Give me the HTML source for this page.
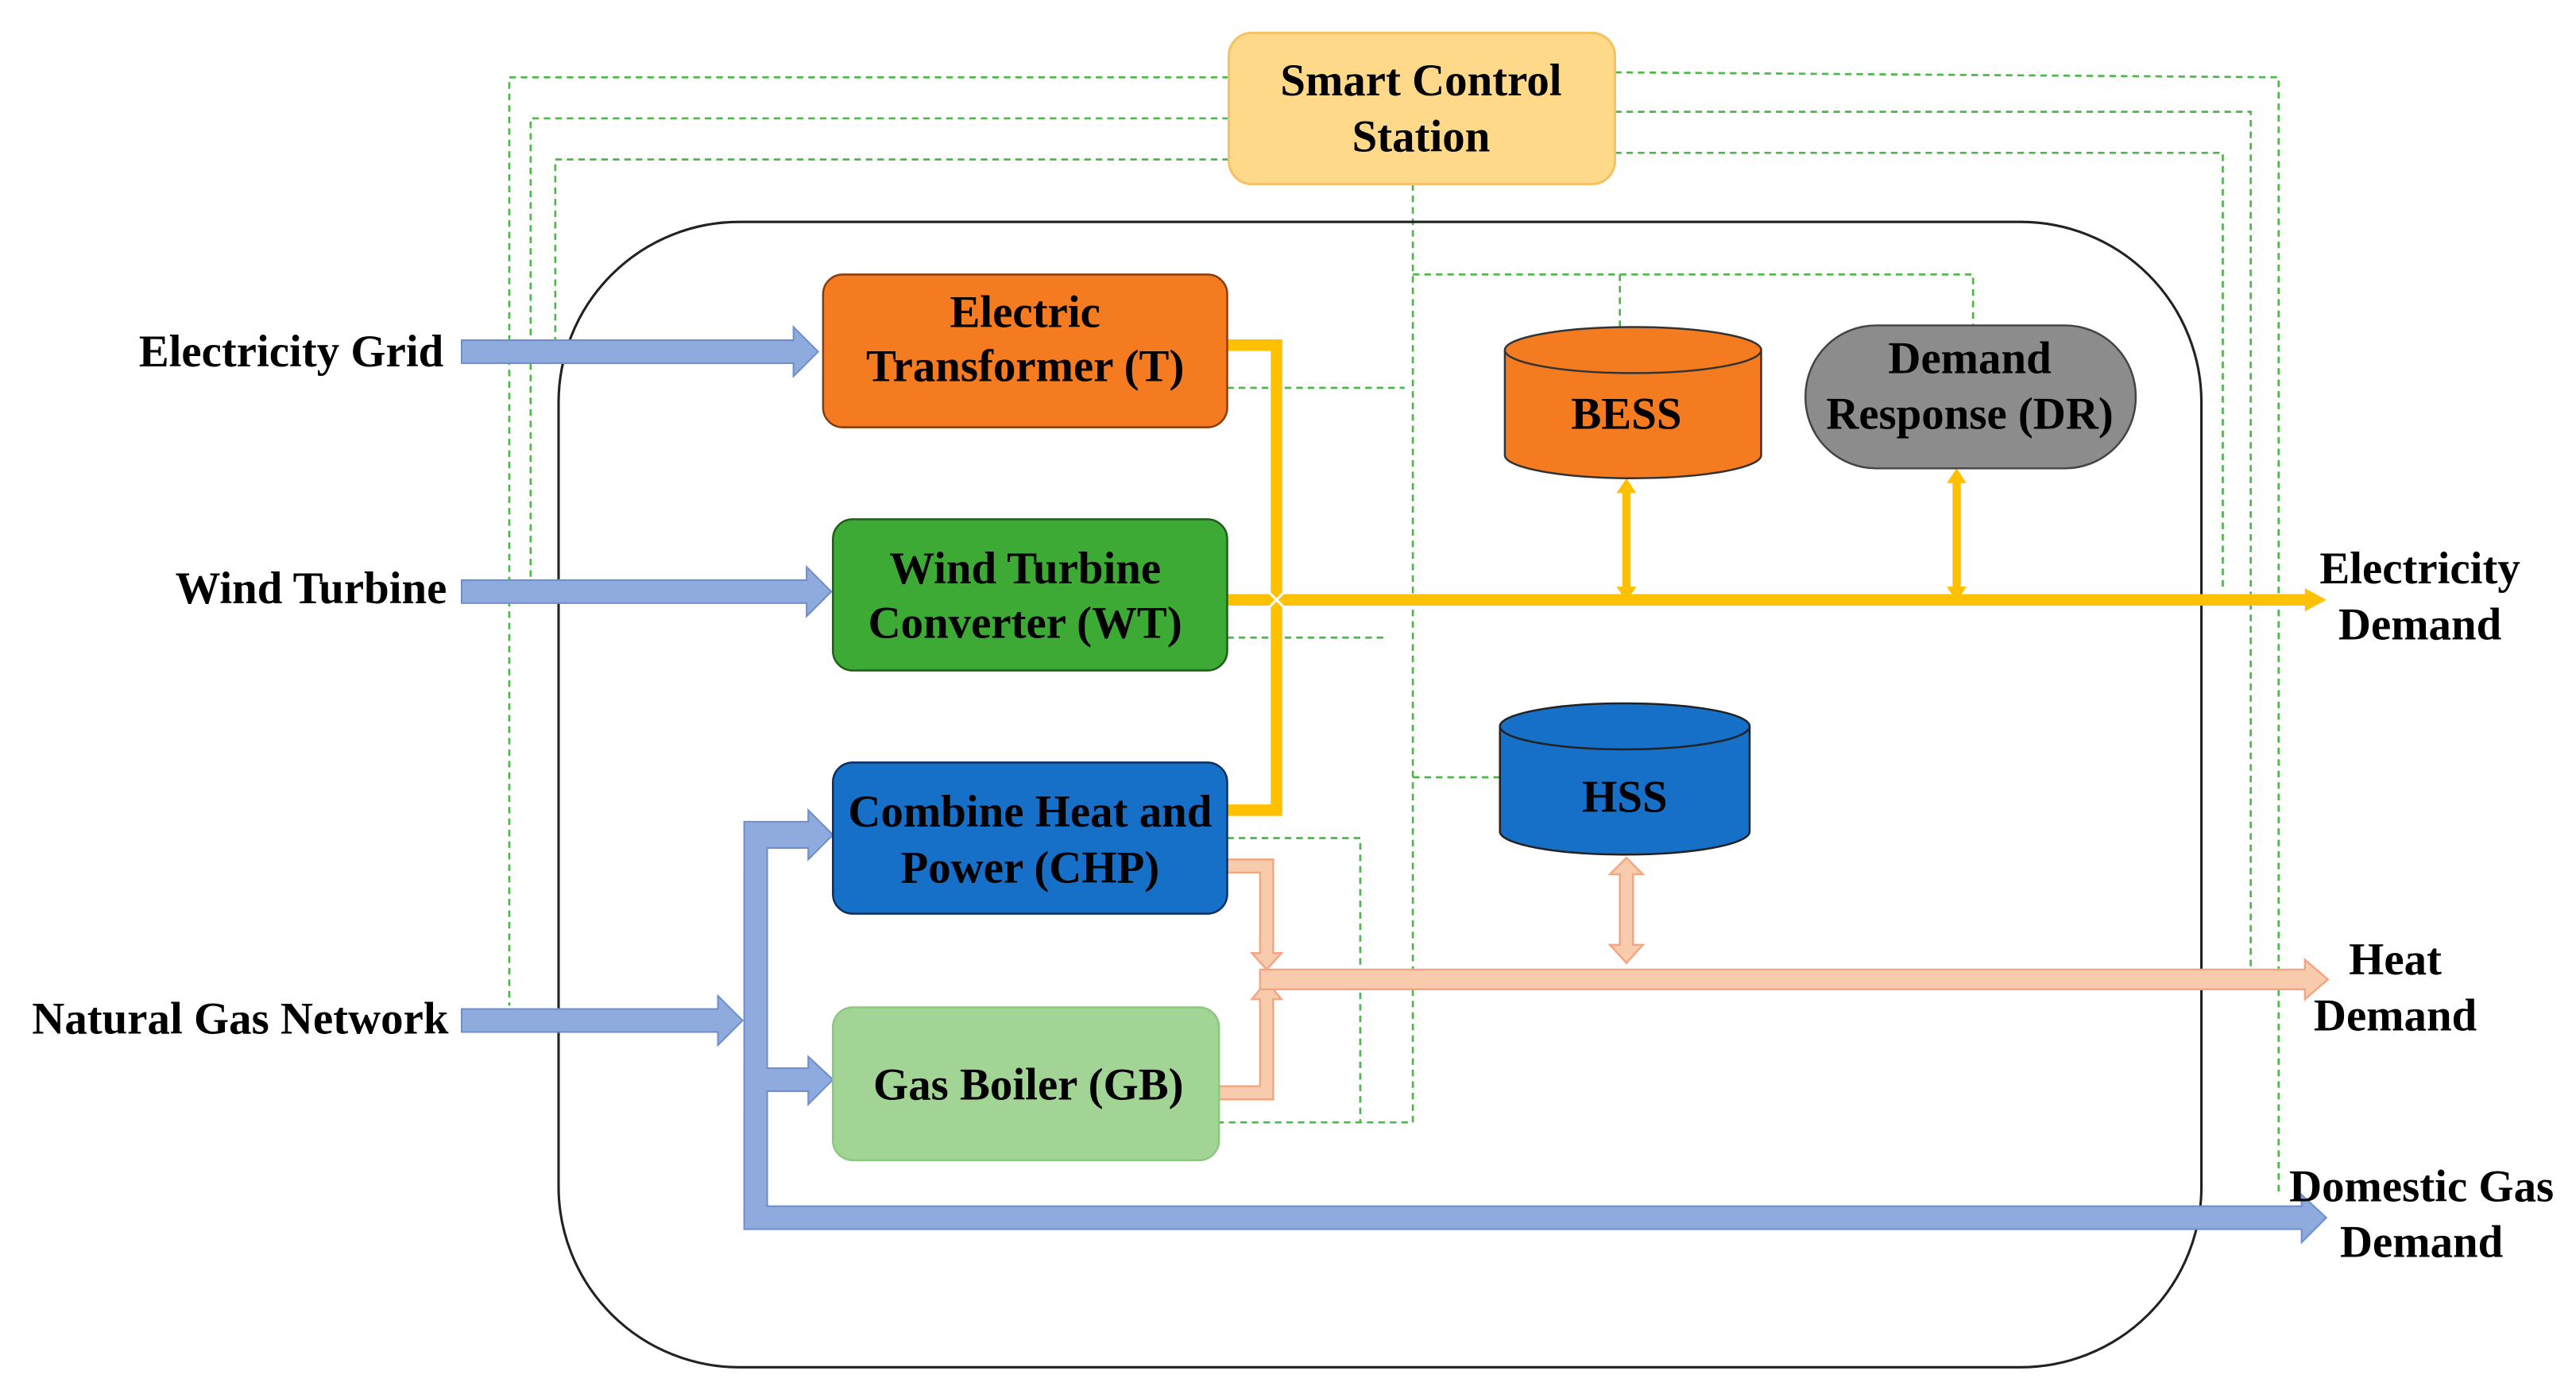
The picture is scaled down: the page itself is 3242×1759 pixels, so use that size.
<!DOCTYPE html>
<html><head><meta charset="utf-8"><style>html,body{margin:0;padding:0;background:#fff}svg{display:block}</style></head>
<body>
<svg width="3242" height="1759" viewBox="0 0 1568 850.7" xmlns="http://www.w3.org/2000/svg" font-family="'Liberation Serif', serif" font-weight="bold">
<rect width="1568" height="851" fill="#fff"/>
<g fill="none" stroke="#4CB847" stroke-width="1.3" stroke-dasharray="4,3">
<polyline points="748,47 310,47 310,612"/>
<polyline points="748,72 323,72 323,360"/>
<polyline points="748,97 338,97 338,215"/>
<polyline points="983,44 1387,47 1387,725"/>
<polyline points="983,68 1370,68 1370,590"/>
<polyline points="983,93 1353,93 1353,360"/>
<polyline points="860,112 860,683 742,683"/>
<polyline points="860,167 1201,167 1201,198"/>
<polyline points="986,167 986,200"/>
<polyline points="747,236 855,236"/>
<polyline points="747,388 845,388"/>
<polyline points="747,510 828,510 828,683"/>
<polyline points="860,473 913,473"/>
</g>
<rect x="340" y="135" width="1000" height="697" rx="110" fill="none" stroke="#222" stroke-width="1.5"/>
<rect x="748" y="20" width="235" height="92" rx="14" fill="#FFD98A" stroke="#F5C266" stroke-width="1.5"/>
<g font-size="27.5" text-anchor="middle">
<text x="865" y="58">Smart Control</text>
<text x="865" y="92">Station</text>
</g>
<g fill="#8FAADC" stroke="#6F8FCC" stroke-width="1">
<polygon points="281,207 483,207 483,199 498,214 483,229 483,221 281,221"/>
<polygon points="281,353 491,353 491,345 506,360 491,375 491,367 281,367"/>
<polygon points="281,614 437,614 437,606 452,621 437,636 437,628 281,628"/>
<polygon points="453,500 492,500 492,493 507,508 492,523 492,516 467,516 467,650 492,650 492,643 507,657 492,672 492,664 467,664 467,734 1401,734 1401,727 1416,741 1401,756 1401,748 453,748"/>
</g>
<g fill="none" stroke="#FFC000" stroke-width="7">
<polyline points="747,210 777,210 777,365"/>
<polyline points="747,493 777,493 777,365"/>
<line x1="747" y1="365" x2="1405" y2="365"/>
</g>
<g fill="none" stroke="#FFC000" stroke-width="5">
<line x1="990" y1="298" x2="990" y2="358"/>
<line x1="1191" y1="292" x2="1191" y2="358"/>
</g>
<polygon points="1403,358 1416,365 1403,372" fill="#FFC000"/>
<g fill="#FFC000">
<polygon points="984,300 990,291 996,300"/>
<polygon points="984,357 990,366 996,357"/>
<polygon points="1185,294 1191,285 1197,294"/>
<polygon points="1185,357 1191,366 1197,357"/>
</g>
<line x1="768" y1="356" x2="786" y2="374" stroke="#fff" stroke-width="1.5"/>
<line x1="786" y1="356" x2="768" y2="374" stroke="#fff" stroke-width="1.5"/>
<g fill="#F8CBAD" stroke="#F4A582" stroke-width="1.2">
<polygon points="747,523 775,523 775,580 780,580 771,590 762,580 767,580 767,531 747,531"/>
<polygon points="742,661 767,661 767,608 762,608 771,597 780,608 775,608 775,669 742,669"/>
<polygon points="767,590 1403,590 1403,584 1417,596 1403,608 1403,602 767,602"/>
<polygon points="986,532 980,532 990,522 1000,532 994,532 994,575 1000,575 990,586 980,575 986,575"/>
</g>
<rect x="501" y="167" width="246" height="93" rx="12" fill="#F47B20" stroke="#8B3A0A" stroke-width="1.2"/>
<rect x="507" y="316" width="240" height="92" rx="12" fill="#3DAA35" stroke="#1F5E1A" stroke-width="1.2"/>
<rect x="507" y="464" width="240" height="92" rx="12" fill="#1670C8" stroke="#0B3060" stroke-width="1.2"/>
<rect x="507" y="613" width="235" height="93" rx="12" fill="#A2D496" stroke="#8CC77E" stroke-width="1.2"/>
<path d="M916,213 L916,277 A78,14 0 0 0 1072,277 L1072,213" fill="#F47B20" stroke="#333" stroke-width="1.2"/>
<ellipse cx="994" cy="213" rx="78" ry="14" fill="#F47B20" stroke="#333" stroke-width="1.2"/>
<rect x="1099" y="198" width="201" height="87" rx="43" fill="#8C8C8C" stroke="#444" stroke-width="1.2"/>
<path d="M913,442 L913,506 A76,14 0 0 0 1065,506 L1065,442" fill="#1670C8" stroke="#222" stroke-width="1.2"/>
<ellipse cx="989" cy="442" rx="76" ry="14" fill="#1670C8" stroke="#222" stroke-width="1.2"/>
<g font-size="27.5" text-anchor="middle">
<text x="624" y="199">Electric</text>
<text x="624" y="232">Transformer (T)</text>
<text x="624" y="355">Wind Turbine</text>
<text x="624" y="388">Converter (WT)</text>
<text x="627" y="503">Combine Heat and</text>
<text x="627" y="537">Power (CHP)</text>
<text x="626" y="669">Gas Boiler (GB)</text>
<text x="990" y="261">BESS</text>
<text x="1199" y="227">Demand</text>
<text x="1199" y="261">Response (DR)</text>
<text x="989" y="494">HSS</text>
<text x="1473" y="355">Electricity</text>
<text x="1473" y="389">Demand</text>
<text x="1458" y="593">Heat</text>
<text x="1458" y="627">Demand</text>
<text x="1474" y="731">Domestic Gas</text>
<text x="1474" y="765">Demand</text>
</g>
<g font-size="27.5" text-anchor="end">
<text x="270" y="223">Electricity Grid</text>
<text x="272" y="367">Wind Turbine</text>
<text x="273" y="629">Natural Gas Network</text>
</g>
</svg>
</body></html>
